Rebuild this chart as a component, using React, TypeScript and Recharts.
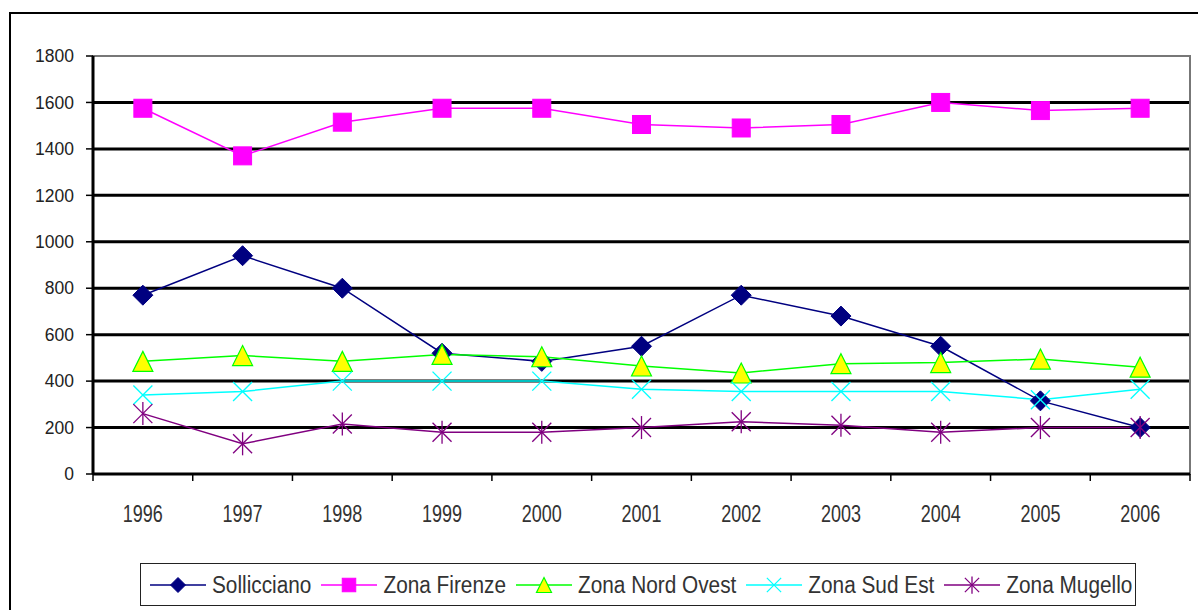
import React from 'react';
import {
  LineChart,
  Line,
  XAxis,
  YAxis,
  CartesianGrid,
  ReferenceArea,
} from 'recharts';

const years = ['1996', '1997', '1998', '1999', '2000', '2001', '2002', '2003', '2004', '2005', '2006'];
const sollicciano = [770, 940, 800, 520, 485, 550, 770, 680, 550, 315, 200];
const zonaFirenze = [1575, 1370, 1515, 1575, 1575, 1505, 1490, 1505, 1600, 1565, 1575];
const zonaNordOvest = [485, 510, 485, 515, 505, 465, 435, 475, 480, 495, 460];
const zonaSudEst = [340, 355, 400, 400, 400, 365, 355, 355, 355, 320, 365];
const zonaMugello = [260, 130, 215, 180, 180, 200, 225, 210, 180, 200, 200];
const yTicks = [0, 200, 400, 600, 800, 1000, 1200, 1400, 1600, 1800];
const gridValues = [200, 400, 600, 800, 1000, 1200, 1400, 1600];

const series = [
  { key: 'sollicciano', name: 'Sollicciano', color: '#000080', shape: 'diamond' },
  { key: 'firenze', name: 'Zona Firenze', color: '#FF00FF', shape: 'square' },
  { key: 'nordOvest', name: 'Zona Nord Ovest', color: '#00FF00', shape: 'triangle' },
  { key: 'sudEst', name: 'Zona Sud Est', color: '#00FFFF', shape: 'cross' },
  { key: 'mugello', name: 'Zona Mugello', color: '#800080', shape: 'star' },
];

const data = years.map((year, i) => ({
  year,
  sollicciano: sollicciano[i],
  firenze: zonaFirenze[i],
  nordOvest: zonaNordOvest[i],
  sudEst: zonaSudEst[i],
  mugello: zonaMugello[i],
}));

const W = 1198;
const H = 610;
const margin = { top: 56, right: 8, bottom: 76, left: 33 };
const yAxisWidth = 60;
const plotWidth = W - margin.left - margin.right - yAxisWidth;
const band = plotWidth / years.length;
const sans = 'Liberation Sans, Arial, sans-serif';

const Marker = ({ shape, color, cx, cy, r }: any) => {
  if (shape === 'diamond') {
    return (
      <polygon
        points={`${cx},${cy - r} ${cx + r},${cy} ${cx},${cy + r} ${cx - r},${cy}`}
        fill={color}
        stroke={color}
      />
    );
  }
  if (shape === 'square') {
    const s = r * 0.9;
    return <rect x={cx - s} y={cy - s} width={s * 2} height={s * 2} fill={color} stroke={color} />;
  }
  if (shape === 'triangle') {
    return (
      <polygon
        points={`${cx},${cy - r} ${cx + r},${cy + r} ${cx - r},${cy + r}`}
        fill="#FFFF00"
        stroke={color}
        strokeWidth={1.2}
      />
    );
  }
  const d = r * 0.95;
  return (
    <g stroke={color} strokeWidth={1.3}>
      <line x1={cx - d} y1={cy - d} x2={cx + d} y2={cy + d} />
      <line x1={cx - d} y1={cy + d} x2={cx + d} y2={cy - d} />
      {shape === 'star' && <line x1={cx} y1={cy - r * 1.15} x2={cx} y2={cy + r * 1.15} />}
    </g>
  );
};

const makeDot = (shape: string, color: string) => (props: any) => {
  const { cx, cy, index } = props;
  if (cx == null || cy == null) return <g key={index} />;
  return (
    <g key={index}>
      <Marker shape={shape} color={color} cx={cx} cy={cy} r={10} />
    </g>
  );
};

// Excel puts the category ticks between the labels, so draw them at band edges
const YearTick = (props: any) => {
  const { x, y, payload, index } = props;
  const left = x - band / 2;
  return (
    <g>
      <line x1={left} y1={y - 8} x2={left} y2={y - 1} stroke="#000" strokeWidth={1.5} />
      {index === years.length - 1 && (
        <line x1={left + band} y1={y - 8} x2={left + band} y2={y - 1} stroke="#000" strokeWidth={1.5} />
      )}
      <text
        transform={`translate(${x},${y + 40}) scale(1,1.3)`}
        x={0}
        y={0}
        textAnchor="middle"
        fontSize={18}
        fontFamily={sans}
        fill="#333"
      >
        {payload.value}
      </text>
    </g>
  );
};

const LegendIcon = ({ shape, color }: any) => (
  <svg width={56} height={24} style={{ display: 'block' }}>
    <line x1={0} y1={12} x2={56} y2={12} stroke={color} strokeWidth={1.5} />
    <Marker shape={shape} color={color} cx={28} cy={12} r={7.5} />
  </svg>
);

export default function App() {
  return (
    <div
      style={{
        position: 'absolute',
        left: 0,
        top: 0,
        width: W,
        height: H,
        overflow: 'hidden',
        background: '#fff',
      }}
    >
      <div
        style={{
          position: 'absolute',
          left: 9,
          top: 12,
          width: 1300,
          height: 700,
          border: '2.5px solid #000',
        }}
      />
      <div style={{ position: 'absolute', left: 0, top: 0 }}>
        <LineChart width={W} height={H} data={data} margin={margin}>
          <CartesianGrid
            vertical={false}
            horizontalValues={gridValues}
            stroke="#000"
            strokeWidth={3}
          />
          <ReferenceArea y1={0} y2={1800} fill="none" stroke="#777" strokeWidth={2} ifOverflow="visible" />
          <XAxis
            dataKey="year"
            scale="band"
            height={60}
            axisLine={{ stroke: '#000', strokeWidth: 3 }}
            tickLine={false}
            tick={<YearTick />}
            interval={0}
          />
          <YAxis
            width={yAxisWidth}
            domain={[0, 1800]}
            ticks={yTicks}
            interval={0}
            axisLine={{ stroke: '#000', strokeWidth: 3 }}
            tickLine={{ stroke: '#000', strokeWidth: 1.5 }}
            tickSize={7}
            tickMargin={12}
            tick={{ fill: '#222', fontSize: 17.5, fontFamily: sans }}
          />
          {series.map((s) => (
            <Line
              key={s.key}
              dataKey={s.key}
              name={s.name}
              type="linear"
              stroke={s.color}
              strokeWidth={1.5}
              dot={makeDot(s.shape, s.color)}
              activeDot={false}
              isAnimationActive={false}
            />
          ))}
        </LineChart>
      </div>
      <div
        style={{
          position: 'absolute',
          left: 140,
          top: 563,
          width: 996,
          height: 43,
          border: '1.5px solid #222',
          display: 'flex',
          alignItems: 'center',
          paddingLeft: 9,
          boxSizing: 'border-box',
          fontFamily: sans,
          fontSize: 20.8,
          color: '#333',
        }}
      >
        {series.map((s) => (
          <div key={s.key} style={{ display: 'flex', alignItems: 'center', marginRight: 10 }}>
            <LegendIcon shape={s.shape} color={s.color} />
            <span
              style={{
                marginLeft: 6,
                whiteSpace: 'nowrap',
                display: 'inline-block',
                transform: 'scaleY(1.14)',
              }}
            >
              {s.name}
            </span>
          </div>
        ))}
      </div>
    </div>
  );
}
